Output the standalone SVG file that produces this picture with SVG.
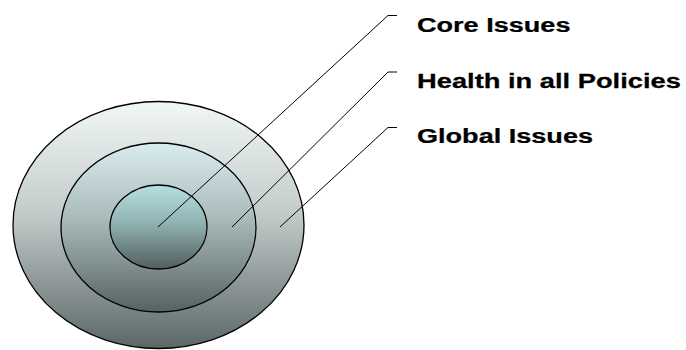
<svg xmlns="http://www.w3.org/2000/svg" width="686" height="350" viewBox="0 0 686 350">
<defs>
<linearGradient id="gOuter" x1="0" y1="0" x2="0" y2="1">
<stop offset="0" stop-color="#f1f7f7"/>
<stop offset="0.45" stop-color="#c4cbcb"/>
<stop offset="1" stop-color="#5b6767"/>
</linearGradient>
<linearGradient id="gMid" x1="0" y1="0" x2="0" y2="1">
<stop offset="0" stop-color="#d9ecef"/>
<stop offset="0.45" stop-color="#a9baba"/>
<stop offset="1" stop-color="#566262"/>
</linearGradient>
<linearGradient id="gInner" x1="0" y1="0" x2="0" y2="1">
<stop offset="0" stop-color="#b6dfe2"/>
<stop offset="0.45" stop-color="#90b2b2"/>
<stop offset="1" stop-color="#525e5e"/>
</linearGradient>
</defs>
<style>
.ring{stroke:#000;stroke-width:1.3}
.lbl{font-family:"Liberation Sans",Arial,sans-serif;font-weight:bold;font-size:21px;fill:#000;stroke:#000;stroke-width:0.25}
.conn{fill:none;stroke:#000;stroke-width:1}
</style>
<g id="outer"><ellipse class="ring" cx="158.5" cy="225" rx="145.5" ry="123.5" fill="url(#gOuter)"/></g>
<g id="middle"><ellipse class="ring" cx="158.5" cy="227.5" rx="97.5" ry="84.5" fill="url(#gMid)"/></g>
<g id="inner"><ellipse class="ring" cx="158.5" cy="227" rx="48.5" ry="42" fill="url(#gInner)"/></g>
<g id="connectors">
<polyline class="conn" points="158,227 388,15.5 397,15.5"/>
<polyline class="conn" points="232,227 388,72 397,72"/>
<polyline class="conn" points="280,227 388,127.5 397,127.5"/>
</g>
<g id="label-core"><text class="lbl" transform="translate(417,31.5) scale(1.29,1)">Core Issues</text></g>
<g id="label-hiap"><text class="lbl" transform="translate(417,87.5) scale(1.3,1)">Health in all Policies</text></g>
<g id="label-global"><text class="lbl" transform="translate(417,142.5) scale(1.29,1)">Global Issues</text></g>
</svg>
